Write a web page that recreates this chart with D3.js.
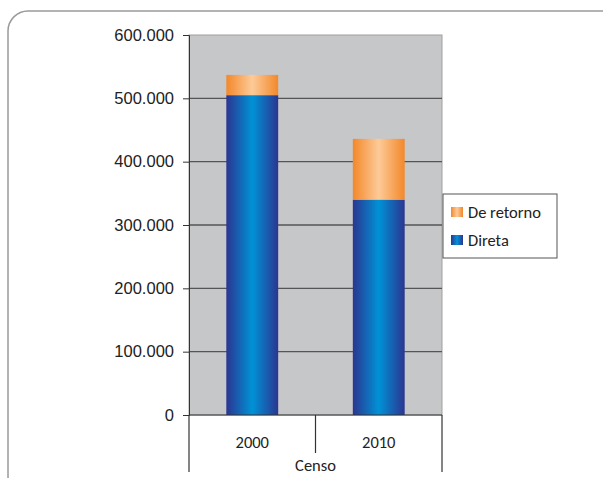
<!DOCTYPE html>
<html lang="pt">
<head>
    <meta charset="UTF-8">
    <title>Censo</title>
    <script src="https://d3js.org/d3.v7.min.js"></script>
    <style>
        body { margin: 0; background: #fff; font-family: Carlito, "Open Sans", Arial, sans-serif; }
        .tick text { font-size: 16.5px; fill: #222; }
    </style>
</head>
<body>
    <script>
        const years = ["2000", "2010"];
        const direta = [505000, 340000];
        const deRetorno = [32000, 96000];
        const yTicks = [0, 100000, 200000, 300000, 400000, 500000, 600000];
        const seriesNames = ["De retorno", "Direta"];

        const width = 603, height = 478;
        const plot = { left: 189, right: 442, top: 35, bottom: 415 };

        const svg = d3.select("body").append("svg")
            .attr("width", width)
            .attr("height", height);

        const defs = svg.append("defs");
        function hGrad(id, edge, mid) {
            const g = defs.append("linearGradient").attr("id", id)
                .attr("x1", "0%").attr("x2", "100%").attr("y1", "0%").attr("y2", "0%");
            g.append("stop").attr("offset", "0%").attr("stop-color", edge);
            g.append("stop").attr("offset", "50%").attr("stop-color", mid);
            g.append("stop").attr("offset", "100%").attr("stop-color", edge);
        }
        hGrad("gBlue", "#2b3591", "#0092d6");
        hGrad("gOrange", "#f3882a", "#fdca98");

        // outer rounded frame
        svg.append("rect")
            .attr("x", 8).attr("y", 11)
            .attr("width", 620).attr("height", 485)
            .attr("rx", 20)
            .attr("fill", "none")
            .attr("stroke", "#9a9a9a")
            .attr("stroke-width", 1.5);

        const x = d3.scaleBand().domain(years).range([plot.left, plot.right]).padding(0);
        const y = d3.scaleLinear().domain([0, 600000]).range([plot.bottom, plot.top]);

        svg.append("rect")
            .attr("x", plot.left).attr("y", plot.top)
            .attr("width", plot.right - plot.left)
            .attr("height", plot.bottom - plot.top)
            .attr("fill", "#c6c7c9")
            .attr("stroke", "#a0a0a0")
            .attr("stroke-width", 1);

        // gridlines
        svg.append("g").selectAll("line")
            .data(yTicks.filter(d => d > 0 && d < 600000))
            .join("line")
            .attr("x1", plot.left).attr("x2", plot.right)
            .attr("y1", d => y(d)).attr("y2", d => y(d))
            .attr("stroke", "#555").attr("stroke-width", 1.3);

        const fmt = d => d === 0 ? "0" : d3.format(",")(d).replace(/,/g, ".");

        const yAxis = svg.append("g")
            .attr("transform", `translate(${plot.left},0)`)
            .call(d3.axisLeft(y).tickValues(yTicks).tickFormat(fmt).tickSize(6).tickPadding(9));
        yAxis.select(".domain").attr("stroke", "#333");
        yAxis.selectAll(".tick line").attr("stroke", "#333");

        const barW = x.bandwidth() * 0.41;
        const data = years.map((yr, i) => ({ yr, direta: direta[i], ret: deRetorno[i] }));

        svg.append("g").selectAll("rect")
            .data(data).join("rect")
            .attr("x", d => x(d.yr) + (x.bandwidth() - barW) / 2)
            .attr("width", barW)
            .attr("y", d => y(d.direta))
            .attr("height", d => y(0) - y(d.direta))
            .attr("fill", "url(#gBlue)");

        svg.append("g").selectAll("rect")
            .data(data).join("rect")
            .attr("x", d => x(d.yr) + (x.bandwidth() - barW) / 2)
            .attr("width", barW)
            .attr("y", d => y(d.direta + d.ret))
            .attr("height", d => y(d.direta) - y(d.direta + d.ret))
            .attr("fill", "url(#gOrange)");

        // category axis
        const cat = svg.append("g").attr("stroke", "#333").attr("stroke-width", 1.2);
        cat.append("line").attr("x1", plot.left).attr("x2", plot.right)
            .attr("y1", plot.bottom).attr("y2", plot.bottom);
        [plot.left, plot.right].forEach(v => {
            cat.append("line").attr("x1", v).attr("x2", v)
                .attr("y1", plot.bottom).attr("y2", 472);
        });
        cat.append("line")
            .attr("x1", x(years[1])).attr("x2", x(years[1]))
            .attr("y1", plot.bottom).attr("y2", 453);

        svg.append("g").selectAll("text")
            .data(years).join("text")
            .attr("x", d => x(d) + x.bandwidth() / 2)
            .attr("y", 448)
            .attr("text-anchor", "middle")
            .style("font-size", "16.5px").attr("fill", "#222")
            .text(d => d);

        svg.append("text")
            .attr("x", (plot.left + plot.right) / 2)
            .attr("y", 471)
            .attr("text-anchor", "middle")
            .style("font-size", "16.5px").attr("fill", "#222")
            .text("Censo");

        // legend
        const lg = svg.append("g").attr("transform", "translate(443,194)");
        lg.append("rect").attr("width", 114).attr("height", 64)
            .attr("fill", "#fff").attr("stroke", "#555").attr("stroke-width", 1);
        const grads = ["url(#gOrange)", "url(#gBlue)"];
        seriesNames.forEach((name, i) => {
            const row = lg.append("g").attr("transform", `translate(8,${13 + i * 28})`);
            row.append("rect").attr("width", 12).attr("height", 10).attr("fill", grads[i]);
            row.append("text").attr("x", 17).attr("y", 10.5)
                .style("font-size", "16.5px").attr("fill", "#222")
                .text(name);
        });
    </script>
</body>
</html>
